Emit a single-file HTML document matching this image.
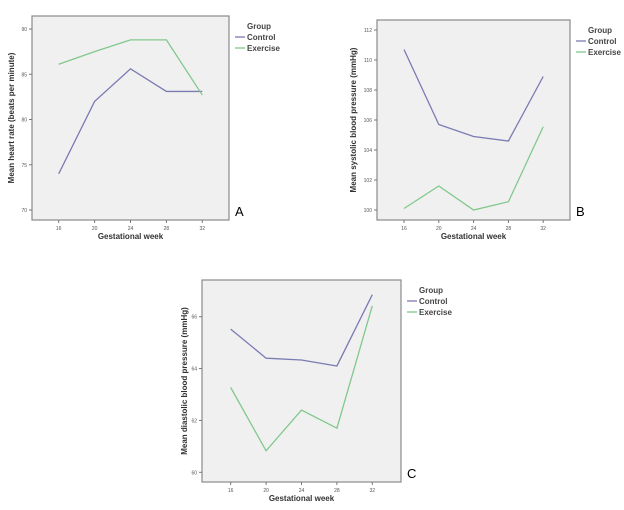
<!DOCTYPE html>
<html><head><meta charset="utf-8"><style>
html,body{margin:0;padding:0;background:#fff;width:624px;height:510px;overflow:hidden;font-family:"Liberation Sans",sans-serif}
svg{position:absolute;left:0;top:0}
</style></head><body>
<svg id="s" width="624" height="510"></svg>
<script>
const weeks=[16,20,24,28,32];
const aControl=[74.0,82.0,85.6,83.1,83.1];
const aExercise=[86.1,87.5,88.8,88.8,82.7];
const aTicks=[70,75,80,85,90];
const bControl=[110.7,105.7,104.9,104.6,108.9];
const bExercise=[100.1,101.6,100.0,100.55,105.55];
const bTicks=[100,102,104,106,108,110,112];
const cControl=[65.52,64.4,64.33,64.1,66.85];
const cExercise=[63.27,60.83,62.4,61.7,66.42];
const cTicks=[60,62,64,66];
const NS="http://www.w3.org/2000/svg";
const svg=document.getElementById('s');
function el(t,a,p){const e=document.createElementNS(NS,t);for(const k in a)e.setAttribute(k,a[k]);(p||svg).appendChild(e);return e;}
function panel(cfg){
  const g=el('g',{});
  
  
  const b=el('rect',{x:cfg.bx0,y:cfg.by0,width:cfg.bx1-cfg.bx0,height:cfg.by1-cfg.by0,fill:'#f0f0f0',stroke:'#8a8a8a','stroke-width':1.2},g);
  
  
  const xs=w=>cfg.x16+(w-16)/4*cfg.xstep;
  const ys=v=>cfg.yLo+(v-cfg.vLo)/(cfg.vHi-cfg.vLo)*(cfg.yHi-cfg.yLo);
  cfg.ticks.forEach(t=>{
    const y=ys(t);
    el('line',{x1:cfg.bx0-3,x2:cfg.bx0,y1:y,y2:y,stroke:'#777'},g);
    const tx=el('text',{x:cfg.bx0-5,y:y+2,'font-size':5,fill:'#555','text-anchor':'end'},g);
    tx.textContent=t;
    
    
  });
  weeks.forEach(w=>{
    const x=xs(w);
    el('line',{x1:x,x2:x,y1:cfg.by1,y2:cfg.by1+3,stroke:'#777'},g);
    const tx=el('text',{x:x,y:cfg.by1+10,'font-size':5,fill:'#555','text-anchor':'middle'},g);
    tx.textContent=w;
    
    
  });
  [[cfg.ctrl,'#7b7bb3','control-line'],[cfg.ex,'#80c88c','exercise-line']].forEach(([d,c,n])=>{
    const p=el('polyline',{points:d.map((v,i)=>xs(weeks[i])+','+ys(v)).join(' '),fill:'none',stroke:c,'stroke-width':1.3},g);
    
    
  });
  const xt=el('text',{x:(cfg.bx0+cfg.bx1)/2,y:cfg.by1+19,'font-size':8,'font-weight':'bold',fill:'#333','text-anchor':'middle'},g);
  xt.textContent='Gestational week';
  
  
  const yc=(cfg.by0+cfg.by1)/2;
  const yt=el('text',{x:cfg.ytx,y:yc,'font-size':8,'font-weight':'bold',fill:'#333','text-anchor':'middle',transform:`rotate(-90 ${cfg.ytx} ${yc})`},g);
  yt.textContent=cfg.ytitle;
  
  
  const lx=cfg.bx1+6;
  const gt=el('text',{x:lx+12,y:cfg.by0+13,'font-size':8,'font-weight':'bold',fill:'#444'},g);
  gt.textContent='Group';
  
  
  [['Control','#7b7bb3',24],['Exercise','#80c88c',35]].forEach(([n,c,dy])=>{
    el('line',{x1:lx,x2:lx+10,y1:cfg.by0+dy-3,y2:cfg.by0+dy-3,stroke:c,'stroke-width':1.3},g);
    const t=el('text',{x:lx+12,y:cfg.by0+dy,'font-size':8,'font-weight':'bold',fill:'#444'},g);
    t.textContent=n;
    
    
  });
  const pl=el('text',{x:cfg.bx1+6,y:cfg.by1-4,'font-size':13,fill:'#000'},g);
  pl.textContent=cfg.label;
  
  
}
panel({name:'panel-a',bx0:32,bx1:229,by0:16,by1:220,x16:58.7,xstep:35.9,vLo:70,vHi:90,yLo:210,yHi:29,ticks:aTicks,ctrl:aControl,ex:aExercise,ytitle:'Mean heart rate (beats per minute)',ytx:14,label:'A'});
panel({name:'panel-b',bx0:377,bx1:570,by0:20,by1:220,x16:404,xstep:34.8,vLo:100,vHi:112,yLo:210,yHi:30,ticks:bTicks,ctrl:bControl,ex:bExercise,ytitle:'Mean systolic blood pressure (mmHg)',ytx:356,label:'B'});
panel({name:'panel-c',bx0:202,bx1:401,by0:280,by1:482,x16:230.7,xstep:35.4,vLo:60,vHi:66,yLo:472.3,yHi:316.7,ticks:cTicks,ctrl:cControl,ex:cExercise,ytitle:'Mean diastolic blood pressure (mmHg)',ytx:187,label:'C'});
</script>
</body></html>
